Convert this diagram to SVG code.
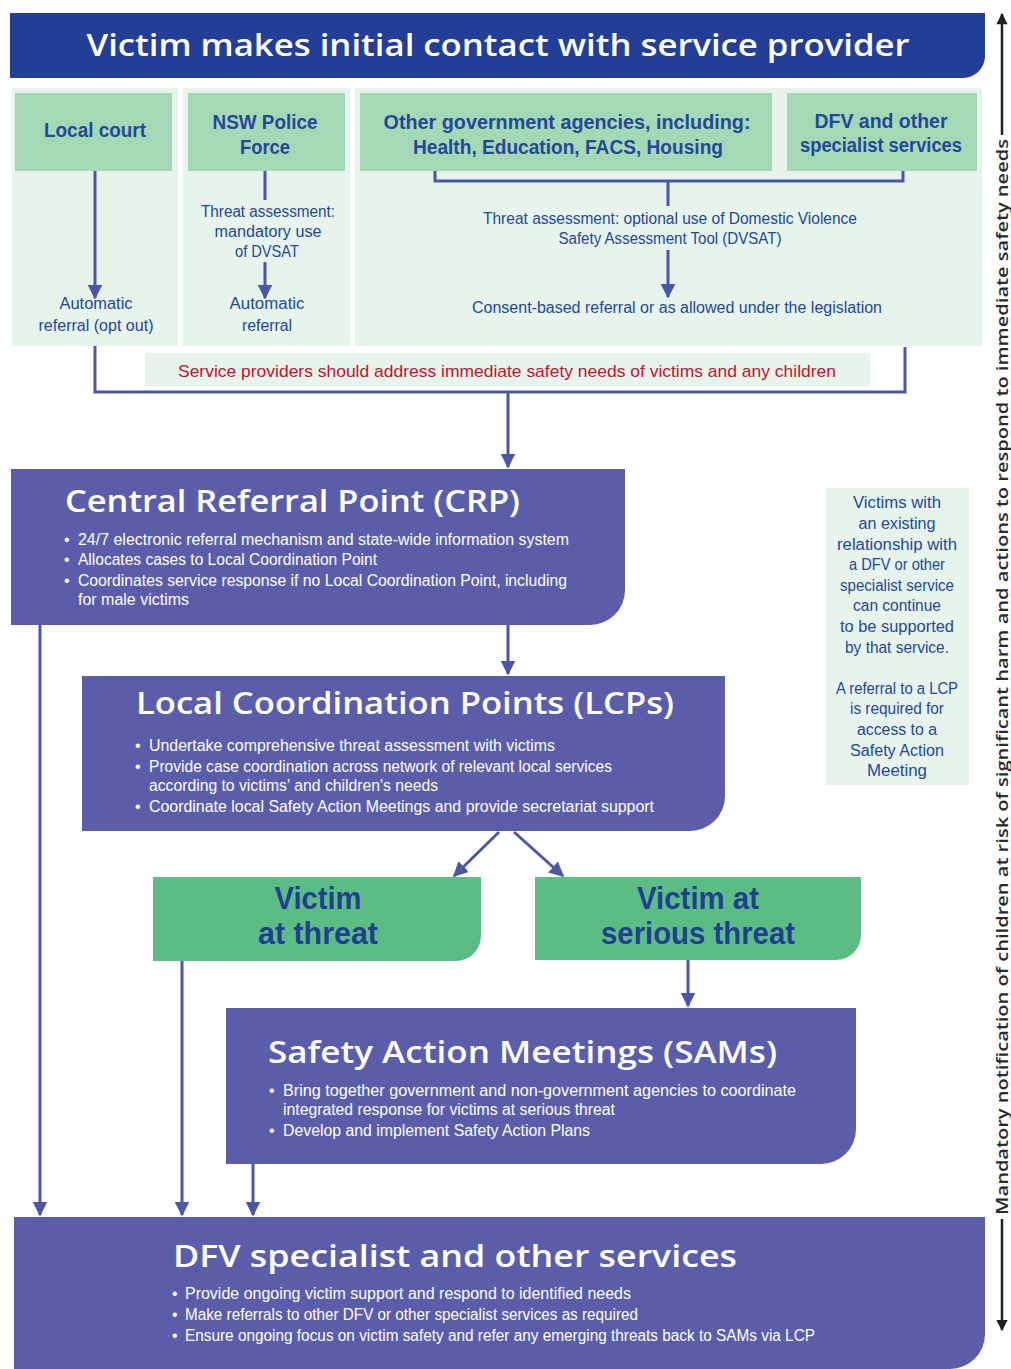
<svg xmlns="http://www.w3.org/2000/svg" width="1011" height="1369" viewBox="0 0 1011 1369">
<defs>
<style>
.bg{fill:#ffffff}
.lite{fill:#E6F4EC}
.hdr{fill:#A5D9B5}
.purple{fill:#5A5EAA}
.green{fill:#5CBD84}
.conn{fill:none;stroke:#4A56A6;stroke-width:3}
.ttl{font-family:"Open Sans","DejaVu Sans",sans-serif;font-weight:600;fill:#ffffff;font-size:30px}
.body{font-family:"Liberation Sans Narrow","Liberation Sans",sans-serif;fill:#ffffff;font-size:16px}
.hd{font-family:"Liberation Sans Narrow","Liberation Sans",sans-serif;font-weight:700;fill:#24479A;font-size:20px;text-anchor:middle}
.sm{font-family:"Liberation Sans Narrow","Liberation Sans",sans-serif;fill:#24479A;font-size:16px;text-anchor:middle}
.vt{font-family:"Liberation Sans Narrow","Liberation Sans",sans-serif;font-weight:700;fill:#1F3F92;font-size:31px;text-anchor:middle}
.red{font-family:"Liberation Sans Narrow","Liberation Sans",sans-serif;fill:#C8102E;font-size:17px;text-anchor:middle}
.side{font-family:"Open Sans","Liberation Sans",sans-serif;font-weight:600;fill:#2a2a2a;font-size:16px;text-anchor:middle}
</style>
<marker id="ah" viewBox="0 0 10 10" refX="9" refY="5" markerWidth="5" markerHeight="5" orient="auto" markerUnits="strokeWidth">
<path d="M0,0 L10,5 L0,10 Z" fill="#4A56A6"/>
</marker>
<marker id="ak" viewBox="0 0 10 10" refX="9" refY="5" markerWidth="5.5" markerHeight="4.5" orient="auto" markerUnits="strokeWidth">
<path d="M0,0 L10,5 L0,10 Z" fill="#222222"/>
</marker>
</defs>
<rect class="bg" x="0" y="0" width="1011" height="1369"/>

<g id="banner">
<path d="M10,13 H985 V56 A22,22 0 0 1 963,78 H10 Z" fill="#223E97"/>
<text class="ttl" x="498" y="56" text-anchor="middle" font-size="30" textLength="823" lengthAdjust="spacingAndGlyphs">Victim makes initial contact with service provider</text>
</g>

<g id="background-columns">
<rect class="lite" x="12" y="88" width="166" height="258"/>
<rect class="lite" x="183" y="88" width="167" height="258"/>
<rect class="lite" x="355" y="88" width="627" height="258"/>
</g>

<g id="local-court">
<rect class="hdr" x="15" y="93" width="157" height="78"/>
<text class="hd" x="95" y="137" textLength="102" lengthAdjust="spacingAndGlyphs">Local court</text>
<text class="sm" x="96" y="309" textLength="73" lengthAdjust="spacingAndGlyphs">Automatic</text>
<text class="sm" x="96" y="331" textLength="115" lengthAdjust="spacingAndGlyphs">referral (opt out)</text>
</g>

<g id="nsw-police">
<rect class="hdr" x="188" y="93" width="157" height="78"/>
<text class="hd" x="265" y="129" textLength="105" lengthAdjust="spacingAndGlyphs">NSW Police</text>
<text class="hd" x="265" y="154" textLength="50" lengthAdjust="spacingAndGlyphs">Force</text>
<text class="sm" x="268" y="217" textLength="134" lengthAdjust="spacingAndGlyphs">Threat assessment:</text>
<text class="sm" x="268" y="237" textLength="107" lengthAdjust="spacingAndGlyphs">mandatory use</text>
<text class="sm" x="267" y="257" textLength="64" lengthAdjust="spacingAndGlyphs">of DVSAT</text>
<text class="sm" x="267" y="309" textLength="75" lengthAdjust="spacingAndGlyphs">Automatic</text>
<text class="sm" x="267" y="331" textLength="50" lengthAdjust="spacingAndGlyphs">referral</text>
</g>

<g id="other-gov">
<rect class="hdr" x="360" y="93" width="412" height="78"/>
<text class="hd" x="567" y="129" textLength="367" lengthAdjust="spacingAndGlyphs">Other government agencies, including:</text>
<text class="hd" x="568" y="154" textLength="310" lengthAdjust="spacingAndGlyphs">Health, Education, FACS, Housing</text>
</g>

<g id="dfv-specialist-header">
<rect class="hdr" x="787" y="93" width="190" height="78"/>
<text class="hd" x="881" y="128" textLength="133" lengthAdjust="spacingAndGlyphs">DFV and other</text>
<text class="hd" x="881" y="152" textLength="162" lengthAdjust="spacingAndGlyphs">specialist services</text>
</g>

<g id="threat-optional">
<text class="sm" x="670" y="224" textLength="374" lengthAdjust="spacingAndGlyphs">Threat assessment: optional use of Domestic Violence</text>
<text class="sm" x="670" y="244" textLength="223" lengthAdjust="spacingAndGlyphs">Safety Assessment Tool (DVSAT)</text>
<text class="sm" x="677" y="313" textLength="410" lengthAdjust="spacingAndGlyphs">Consent-based referral or as allowed under the legislation</text>
</g>

<g id="safety-note">
<rect class="lite" x="145" y="353" width="725" height="33"/>
<text class="red" x="507" y="377" textLength="658" lengthAdjust="spacingAndGlyphs">Service providers should address immediate safety needs of victims and any children</text>
</g>

<g id="crp">
<path d="M11,469 H625 V590 A35,35 0 0 1 590,625 H11 Z" class="purple"/>
<text class="ttl" x="65" y="512" textLength="455" lengthAdjust="spacingAndGlyphs">Central Referral Point (CRP)</text>
<g class="body">
<text x="64" y="545">•</text><text x="78" y="545" textLength="491" lengthAdjust="spacingAndGlyphs">24/7 electronic referral mechanism and state-wide information system</text>
<text x="64" y="565">•</text><text x="78" y="565" textLength="299" lengthAdjust="spacingAndGlyphs">Allocates cases to Local Coordination Point</text>
<text x="64" y="586">•</text><text x="78" y="586" textLength="489" lengthAdjust="spacingAndGlyphs">Coordinates service response if no Local Coordination Point, including</text>
<text x="78" y="605" textLength="111" lengthAdjust="spacingAndGlyphs">for male victims</text>
</g>
</g>

<g id="side-note">
<rect class="lite" x="826" y="488" width="143" height="297"/>
<g class="sm" font-size="15">
<text x="897" y="508" textLength="88" lengthAdjust="spacingAndGlyphs">Victims with</text>
<text x="897" y="529" textLength="77" lengthAdjust="spacingAndGlyphs">an existing</text>
<text x="897" y="550" textLength="120" lengthAdjust="spacingAndGlyphs">relationship with</text>
<text x="897" y="570" textLength="96" lengthAdjust="spacingAndGlyphs">a DFV or other</text>
<text x="897" y="591" textLength="114" lengthAdjust="spacingAndGlyphs">specialist service</text>
<text x="897" y="611" textLength="88" lengthAdjust="spacingAndGlyphs">can continue</text>
<text x="897" y="632" textLength="114" lengthAdjust="spacingAndGlyphs">to be supported</text>
<text x="897" y="653" textLength="104" lengthAdjust="spacingAndGlyphs">by that service.</text>
<text x="897" y="694" textLength="122" lengthAdjust="spacingAndGlyphs">A referral to a LCP</text>
<text x="897" y="714" textLength="94" lengthAdjust="spacingAndGlyphs">is required  for</text>
<text x="897" y="735" textLength="80" lengthAdjust="spacingAndGlyphs">access to a</text>
<text x="897" y="756" textLength="94" lengthAdjust="spacingAndGlyphs">Safety Action</text>
<text x="897" y="776" textLength="60" lengthAdjust="spacingAndGlyphs">Meeting</text>
</g>
</g>

<g id="lcp">
<path d="M82,676 H725 V796 A35,35 0 0 1 690,831 H82 Z" class="purple"/>
<text class="ttl" x="136" y="714" textLength="538" lengthAdjust="spacingAndGlyphs">Local Coordination Points (LCPs)</text>
<g class="body">
<text x="135" y="751">•</text><text x="149" y="751" textLength="406" lengthAdjust="spacingAndGlyphs">Undertake comprehensive threat assessment with victims</text>
<text x="135" y="772">•</text><text x="149" y="772" textLength="463" lengthAdjust="spacingAndGlyphs">Provide case coordination across network of relevant local services</text>
<text x="149" y="791" textLength="289" lengthAdjust="spacingAndGlyphs">according to victims' and children's needs</text>
<text x="135" y="812">•</text><text x="149" y="812" textLength="505" lengthAdjust="spacingAndGlyphs">Coordinate local Safety Action Meetings and provide secretariat support</text>
</g>
</g>

<g id="victim-threat">
<path d="M153,877 H481 V936 A25,25 0 0 1 456,961 H153 Z" class="green"/>
<text class="vt" x="318" y="909" textLength="87" lengthAdjust="spacingAndGlyphs">Victim</text>
<text class="vt" x="318" y="944" textLength="120" lengthAdjust="spacingAndGlyphs">at threat</text>
</g>

<g id="victim-serious">
<path d="M535,877 H861 V935 A25,25 0 0 1 836,960 H535 Z" class="green"/>
<text class="vt" x="698" y="909" textLength="122" lengthAdjust="spacingAndGlyphs">Victim at</text>
<text class="vt" x="698" y="944" textLength="194" lengthAdjust="spacingAndGlyphs">serious threat</text>
</g>

<g id="sam">
<path d="M226,1008 H856 V1129 A35,35 0 0 1 821,1164 H226 Z" class="purple"/>
<text class="ttl" x="268" y="1063" textLength="509" lengthAdjust="spacingAndGlyphs">Safety Action Meetings (SAMs)</text>
<g class="body">
<text x="269" y="1096">•</text><text x="283" y="1096" textLength="513" lengthAdjust="spacingAndGlyphs">Bring together government and non-government agencies to coordinate</text>
<text x="283" y="1115" textLength="332" lengthAdjust="spacingAndGlyphs">integrated response for victims at serious threat</text>
<text x="269" y="1136">•</text><text x="283" y="1136" textLength="307" lengthAdjust="spacingAndGlyphs">Develop and implement Safety Action Plans</text>
</g>
</g>

<g id="dfv-services">
<path d="M14,1217 H985 V1334 A35,35 0 0 1 950,1369 H14 Z" class="purple"/>
<text class="ttl" x="173" y="1267" textLength="564" lengthAdjust="spacingAndGlyphs">DFV specialist and other services</text>
<g class="body">
<text x="172" y="1299">•</text><text x="185" y="1299" textLength="446" lengthAdjust="spacingAndGlyphs">Provide ongoing victim support and respond to identified needs</text>
<text x="172" y="1320">•</text><text x="185" y="1320" textLength="453" lengthAdjust="spacingAndGlyphs">Make referrals to other DFV or other specialist services as required</text>
<text x="172" y="1341">•</text><text x="185" y="1341" textLength="630" lengthAdjust="spacingAndGlyphs">Ensure ongoing focus on victim safety and refer any emerging threats back to SAMs via LCP</text>
</g>
</g>

<g id="connectors">
<line class="conn" x1="95" y1="171" x2="95" y2="298" marker-end="url(#ah)"/>
<line class="conn" x1="265" y1="171" x2="265" y2="200"/>
<line class="conn" x1="265" y1="262" x2="265" y2="298" marker-end="url(#ah)"/>
<polyline class="conn" points="435,171 435,181 903,181 903,171"/>
<line class="conn" x1="668" y1="181" x2="668" y2="206"/>
<line class="conn" x1="668" y1="250" x2="668" y2="297" marker-end="url(#ah)"/>
<polyline class="conn" points="95,346 95,392 905,392 905,347"/>
<line class="conn" x1="508" y1="392" x2="508" y2="467" marker-end="url(#ah)"/>
<line class="conn" x1="508" y1="625" x2="508" y2="674" marker-end="url(#ah)"/>
<line class="conn" x1="40" y1="625" x2="40" y2="1215" marker-end="url(#ah)"/>
<line class="conn" x1="499" y1="832" x2="454" y2="876" marker-end="url(#ah)"/>
<line class="conn" x1="514" y1="832" x2="563" y2="876" marker-end="url(#ah)"/>
<line class="conn" x1="182" y1="961" x2="182" y2="1215" marker-end="url(#ah)"/>
<line class="conn" x1="688" y1="960" x2="688" y2="1006" marker-end="url(#ah)"/>
<line class="conn" x1="253" y1="1164" x2="253" y2="1215" marker-end="url(#ah)"/>
<line x1="1002" y1="135" x2="1002" y2="14" stroke="#222222" stroke-width="2.5" marker-end="url(#ak)"/>
<line x1="1002" y1="1219" x2="1002" y2="1330" stroke="#222222" stroke-width="2.5" marker-end="url(#ak)"/>
</g>

<g id="side-label">
<text class="side" transform="translate(1008,677) rotate(-90)" x="0" y="0" textLength="1076" lengthAdjust="spacingAndGlyphs">Mandatory notification of children at risk of significant harm and actions to respond to immediate safety needs</text>
</g>
</svg>
